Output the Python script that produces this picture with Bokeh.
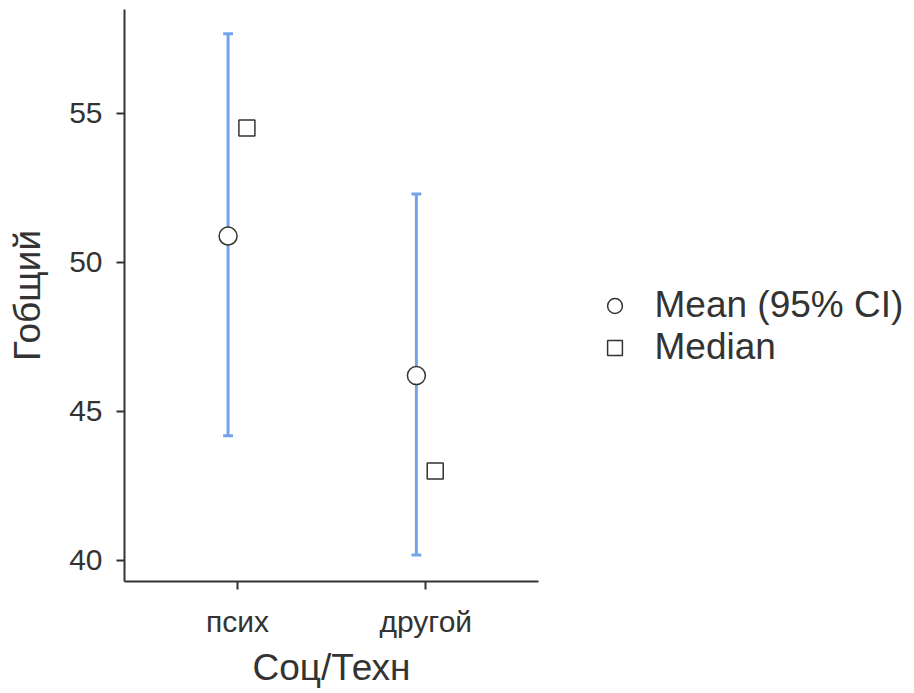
from bokeh.plotting import figure
from bokeh.models import Range1d, FixedTicker, Legend, LegendItem, Title
from bokeh.embed import file_html
from bokeh.resources import INLINE

groups = ["псих", "другой"]
means = [50.88, 46.2]
ci_lower = [44.18, 40.18]
ci_upper = [57.66, 52.29]
medians = [54.5, 43.0]
y_ticks = [40, 45, 50, 55]

FONT = "Liberation Sans"
TXT = "#333333"
BLUE = "#74A3EC"

pos = [i + 1 for i in range(len(groups))]
dodge = 0.05
x_mean = [p_ - dodge for p_ in pos]
x_med = [p_ + dodge for p_ in pos]
cap = 0.026

FRAME_W, FRAME_H = 782, 572
AXIS_W = 414.3
x_lo, x_hi = 0.4, 2.6
x_end = x_lo + (x_hi - x_lo) * FRAME_W / AXIS_W

p = figure(frame_width=FRAME_W, frame_height=FRAME_H, output_backend="svg", toolbar_location=None,
           x_range=Range1d(x_lo, x_end), y_range=Range1d(39.295, 58.477),
           min_border_left=124, min_border_right=0, min_border_top=9, min_border_bottom=110)
p.outline_line_color = None
p.xgrid.visible = False
p.ygrid.visible = False

p.segment(x0=x_mean, x1=x_mean, y0=ci_lower, y1=ci_upper, line_color=BLUE, line_width=3)
p.segment(x0=[x - cap for x in x_mean], x1=[x + cap for x in x_mean], y0=ci_upper, y1=ci_upper,
          line_color=BLUE, line_width=3)
p.segment(x0=[x - cap for x in x_mean], x1=[x + cap for x in x_mean], y0=ci_lower, y1=ci_lower,
          line_color=BLUE, line_width=3)
r_mean = p.scatter(x_mean, means, marker="circle", size=18, fill_color="white",
                   line_color=TXT, line_width=1.5)
r_med = p.scatter(x_med, medians, marker="square", size=16, fill_color="white",
                  line_color=TXT, line_width=1.5)

for ax in (p.xaxis[0], p.yaxis[0]):
    ax.axis_line_color = TXT
    ax.axis_line_width = 2
    ax.major_tick_line_color = TXT
    ax.major_tick_line_width = 2
    ax.major_tick_out = 8
    ax.major_tick_in = 0
    ax.minor_tick_line_color = None
    ax.major_label_text_font = FONT
    ax.major_label_text_font_size = "30px"
    ax.major_label_text_color = TXT
    ax.axis_label_text_font = FONT
    ax.axis_label_text_font_size = "37px"
    ax.axis_label_text_color = TXT
    ax.axis_label_text_font_style = "normal"

p.xaxis.bounds = (x_lo, x_hi)
p.xaxis.ticker = FixedTicker(ticks=pos)
p.xaxis.major_label_overrides = {pos[i]: groups[i] for i in range(len(groups))}
p.yaxis.ticker = FixedTicker(ticks=y_ticks)
p.yaxis.axis_label = "Гобщий"
p.xaxis.major_label_standoff = 15
p.yaxis.major_label_standoff = 14
p.yaxis.axis_label_standoff = 18

x_title = Title(text="Соц/Техн", align="left", offset=128,
                text_font=FONT, text_font_size="37px", text_color=TXT,
                text_font_style="normal", standoff=8)
p.add_layout(x_title, "below")

legend = Legend(items=[LegendItem(label="Mean (95% CI)", renderers=[r_mean]),
                       LegendItem(label="Median", renderers=[r_med])],
                location=(471.5, 213), glyph_width=37, glyph_height=37, spacing=0,
                label_standoff=22, label_text_font=FONT, label_text_font_size="37px",
                label_text_color=TXT, border_line_color=None, background_fill_alpha=0,
                margin=0, padding=0)
p.add_layout(legend)

open("out.html", "w").write(file_html(p, INLINE))
